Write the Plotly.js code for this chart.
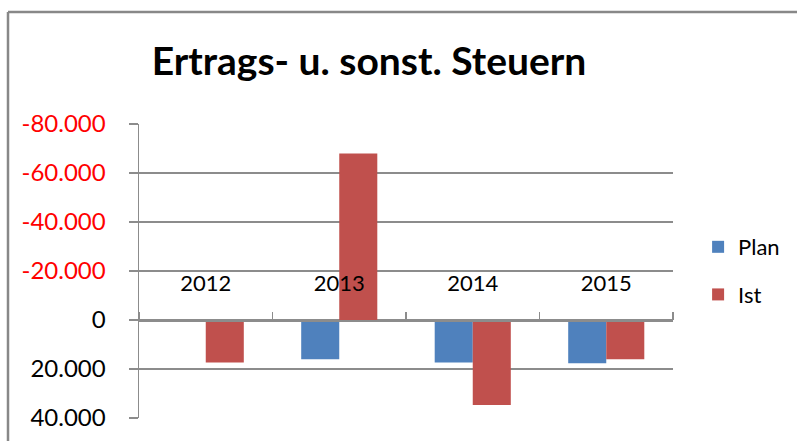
<!DOCTYPE html>
<html>
<head>
<meta charset="utf-8">
<script src="https://cdn.plot.ly/plotly-3.0.1.min.js"></script>
<style>html,body{margin:0;padding:0;background:#fff;}#chart{width:797px;height:441px;}</style>
</head>
<body>
<div id="chart"></div>
<script>
const years = ['2012', '2013', '2014', '2015'];
const planValues = [null, 16000, 17300, 17700];
const istValues = [17300, -68000, 34700, 16000];
const yTickVals = [-80000, -60000, -40000, -20000, 0, 20000, 40000];
const yTickLabels = ['-80.000', '-60.000', '-40.000', '-20.000', '0', '20.000', '40.000'];
const titleText = 'Ertrags- u. sonst. Steuern';

const FONT = 'Lato, "Liberation Sans", Arial, sans-serif';
const yMin = -80000, yMax = 40000;

const traces = [
  {type: 'bar', name: 'Plan', x: years, y: planValues, legendgroup: 'a',
   marker: {color: '#4F81BD'}, hoverinfo: 'skip'},
  {type: 'bar', name: 'Ist', x: years, y: istValues, legendgroup: 'b',
   marker: {color: '#C0504D'}, hoverinfo: 'skip'}
];

const tickText = yTickVals.map((v, i) => v < 0 ? '<span style="color:#FF0000">' + yTickLabels[i] + '</span>' : yTickLabels[i]);

const layout = {
  width: 797, height: 441,
  margin: {l: 139, r: 124, t: 124, b: 23, pad: 0},
  paper_bgcolor: '#ffffff', plot_bgcolor: '#ffffff',
  font: {family: FONT, color: '#000000', size: 22},
  title: {text: '<b>' + titleText + '</b>', font: {family: FONT, size: 39, color: '#000'},
          x: 0.463, xref: 'container', xanchor: 'center', y: 0.862, yref: 'container', yanchor: 'middle'},
  barmode: 'group', bargap: 0.43, bargroupgap: 0,
  showlegend: true,
  legend: {x: 1.047, xanchor: 'left', y: 0.653, yanchor: 'top', font: {family: FONT, size: 22, color: '#000'},
           traceorder: 'grouped', tracegroupgap: 16, bgcolor: 'rgba(0,0,0,0)'},
  xaxis: {type: 'category', anchor: 'free', position: (yMax - 0) / (yMax - yMin),
          side: 'top', showline: true, linecolor: '#8c8c8c', linewidth: 1.5,
          ticks: 'outside', ticklen: 8, tickwidth: 1.5, tickcolor: '#8c8c8c', tickson: 'boundaries',
          ticklabelstandoff: 20, showgrid: false, zeroline: false,
          tickfont: {family: FONT, size: 22, color: '#000'}, fixedrange: true},
  yaxis: {range: [yMax, yMin], tickvals: yTickVals, ticktext: tickText,
          showline: true, linecolor: '#8c8c8c', linewidth: 1.5,
          ticks: 'outside', ticklen: 9, tickwidth: 1.5, tickcolor: '#8c8c8c',
          showgrid: true, gridcolor: '#8c8c8c', gridwidth: 1.5, zeroline: false,
          ticklabelstandoff: 18,
          tickfont: {family: FONT, size: 24, color: '#000'}, fixedrange: true},
  shapes: [
    {type: 'line', xref: 'paper', yref: 'paper', x0: -131 / 534, x1: -131 / 534, y0: 1.381, y1: -0.2,
     line: {color: '#888888', width: 2.5}},
    {type: 'line', xref: 'paper', yref: 'paper', x0: -131 / 534, x1: 1.3, y0: 1.381, y1: 1.381,
     line: {color: '#888888', width: 2.5}}
  ]
};

Plotly.newPlot('chart', traces, layout, {staticPlot: true, displayModeBar: false});
</script>
</body>
</html>
